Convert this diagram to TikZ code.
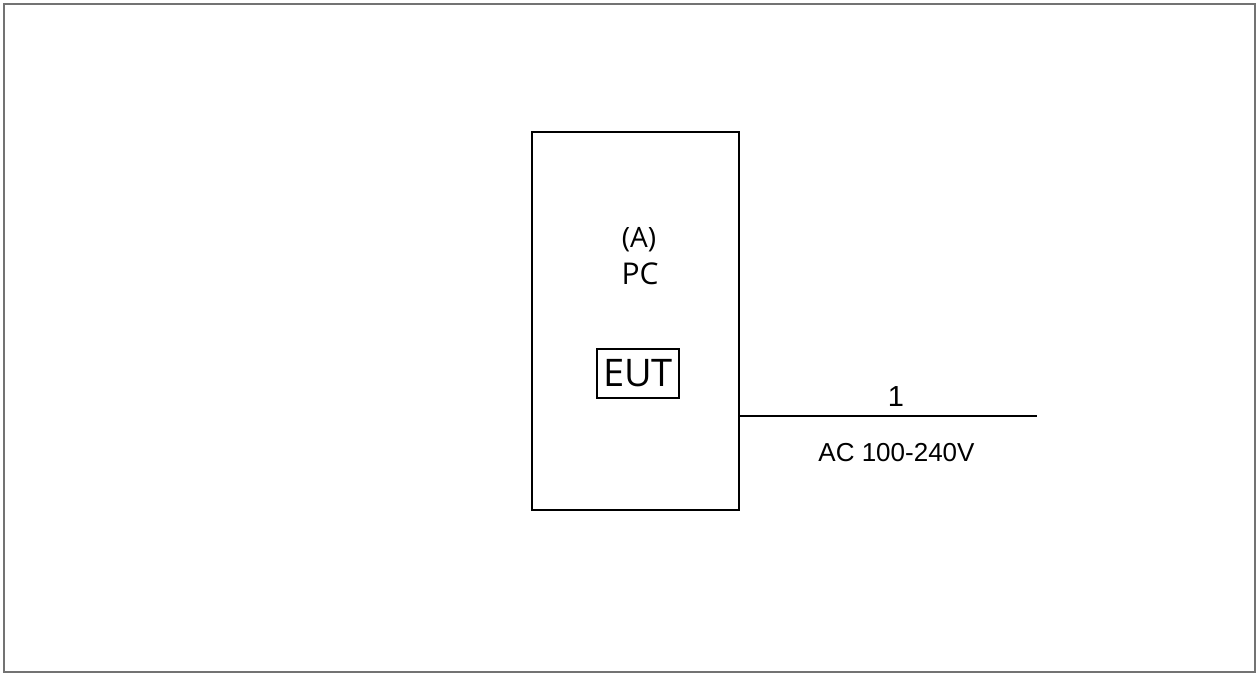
\documentclass[tikz,border=0pt]{standalone}
\usepackage{fontspec}
\setmainfont{Open Sans}
\newfontfamily\arialfont{Liberation Sans}
\usetikzlibrary{positioning}
\tikzset{
  unit/.style={
    draw,
    line width=1pt,
    minimum width=103.5pt,
    minimum height=189pt,
    inner sep=0pt
  },
  tag/.style={
    draw,
    line width=0.9pt,
    minimum width=41pt,
    minimum height=24.5pt,
    inner sep=0pt,
    font=\fontsize{19}{22}\selectfont
  },
  lbl/.style={inner sep=0pt, anchor=base, font=\fontsize{15}{18}\selectfont},
  cablelbl/.style={inner sep=0pt, anchor=base, font=\arialfont\fontsize{13}{15}\selectfont},
  cable/.style={line width=1pt}
}

\begin{document}
\begin{tikzpicture}[x=0.5pt, y=-0.5pt]
  \useasboundingbox (0,0) rectangle (1258,675);
  \draw[black!55, line width=1pt] (3.5,3.5) rectangle (1255,672);

  \node[unit] (pc) at (635.5,321) {};
  \node[lbl, font=\fontsize{14}{17}\selectfont] (pcid) at (639,247) {(A)};
  \node[lbl] (pcname) at (640,284) {PC};
  \node[tag] (eut) at (638,373.5) {EUT};

  \coordinate (mains) at (1037,415.5);
  \draw[cable] (pc.east |- mains) -- (mains);
  \node[cablelbl, font=\arialfont\fontsize{14.5}{17}\selectfont] (cableno) at (896,406) {1};
  \node[cablelbl] (cablev) at (896.5,461) {AC 100-240V};
\end{tikzpicture}
\end{document}
